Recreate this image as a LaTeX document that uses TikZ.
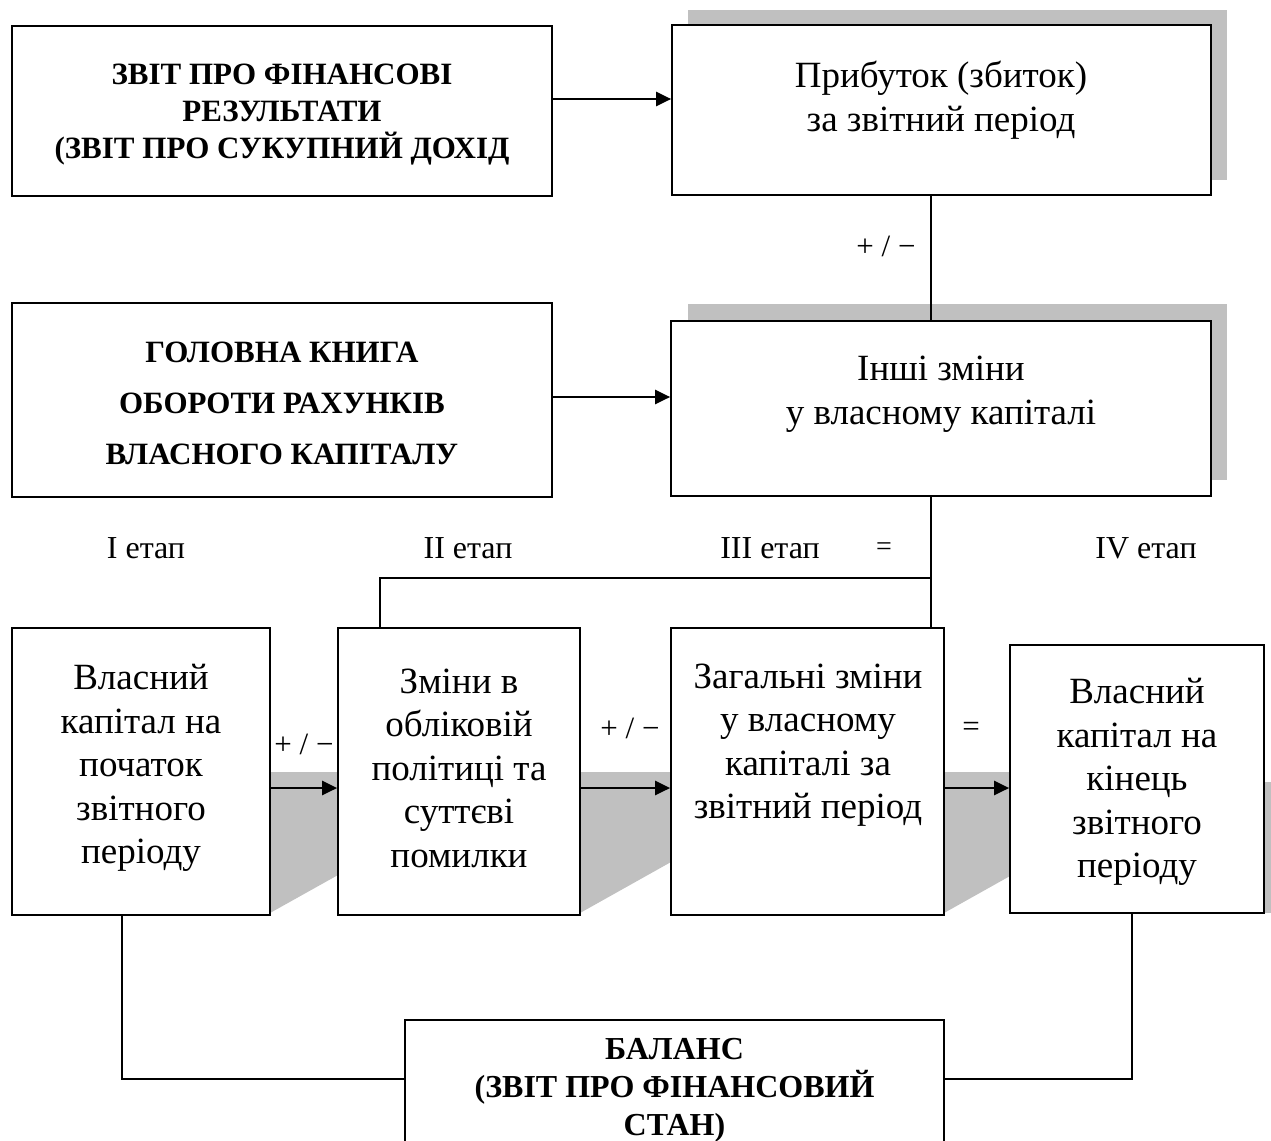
\documentclass[tikz,border=0pt]{standalone}
\usepackage{fontspec}
\setmainfont{Liberation Serif}
\usetikzlibrary{arrows.meta}
\definecolor{shade}{RGB}{192,192,192}
\tikzset{
  box/.style={draw, line width=1.7pt, fill=white, inner sep=0pt},
  txt/.style={align=center, inner sep=0pt, font=\fontsize{37}{43.5}\selectfont},
  btxt/.style={align=center, inner sep=0pt, font=\bfseries\fontsize{31}{37}\selectfont},
  lbl/.style={inner sep=0pt, font=\fontsize{32}{34}\selectfont},
  sgn/.style={inner sep=0pt, font=\fontsize{31}{34}\selectfont},
  conn/.style={line width=1.7pt},
  arr/.style={line width=2.4pt, -{Triangle[length=15pt,width=14pt]}},
  shadowfill/.style={fill=shade, draw=none},
}
\begin{document}
\begin{tikzpicture}[x=1pt,y=-1pt]
\clip (0,0) rectangle (1271,1140);
\fill[white] (0,0) rectangle (1271,1140);

% shadows
\fill[shadowfill] (688,10) rectangle (1227,180);
\fill[shadowfill] (688,304) rectangle (1227,480);
\fill[shadowfill] (270,772) -- (338,772) -- (338,875) -- (270,913) -- cycle;
\fill[shadowfill] (580,772) -- (671,772) -- (671,862) -- (580,913) -- cycle;
\fill[shadowfill] (944,772) -- (1010,772) -- (1010,876) -- (944,913) -- cycle;
\fill[shadowfill] (1264,782) rectangle (1271,913);

% boxes
\node[box, minimum width=540pt, minimum height=170pt] (A) at (282,111) {};
\node[box, minimum width=539pt, minimum height=170pt] (B) at (941.5,110) {};
\node[box, minimum width=540pt, minimum height=175pt] (C) at (941,408.5) {};
\node[box, minimum width=540pt, minimum height=194pt] (D) at (282,400) {};
\node[box, minimum width=258pt, minimum height=287pt] (E) at (141,771.5) {};
\node[box, minimum width=242pt, minimum height=287pt] (F) at (459,771.5) {};
\node[box, minimum width=273pt, minimum height=287pt] (G) at (807.5,771.5) {};
\node[box, minimum width=254pt, minimum height=268pt] (H) at (1137,779) {};
\node[box, minimum width=539pt, minimum height=160pt] (I) at (674.5,1100) {};

% helper coordinates
\coordinate (vx) at (931,0);
\coordinate (fx) at (380,0);
\coordinate (br) at (931,578);
\coordinate (ex) at (122,0);
\coordinate (hx) at (1132,0);

% connectors
\draw[arr] ([yshift=12pt]A.east) -- ([yshift=12pt]A.east -| B.west);
\draw[arr] ([yshift=3pt]D.east) -- ([yshift=3pt]D.east -| C.west);
\draw[conn] (B.south -| vx) -- (C.north -| vx);
\draw[conn] (C.south -| vx) -- (G.north -| vx);
\draw[conn] (br) -- (br -| fx) -- (F.north -| fx);
\draw[arr] ([yshift=-16.5pt]E.east) -- ([yshift=-16.5pt]E.east -| F.west);
\draw[arr] ([yshift=-16.5pt]F.east) -- ([yshift=-16.5pt]F.east -| G.west);
\draw[arr] ([yshift=-16.5pt]G.east) -- ([yshift=-16.5pt]G.east -| H.west);
\draw[conn] (E.south -| ex) |- ([yshift=21pt]I.west);
\draw[conn] (H.south -| hx) |- ([yshift=21pt]I.east);

% texts
\node[btxt] (tA) at (282,115) {ЗВІТ ПРО ФІНАНСОВІ\\РЕЗУЛЬТАТИ\\(ЗВІТ ПРО СУКУПНИЙ ДОХІД};
\node[txt] (tB) at (941,100) {Прибуток (збиток)\\за звітний період};
\node[txt] (tC) at (941,394) {Інші зміни\\у власному капіталі};
\node[btxt, font=\bfseries\fontsize{31}{51}\selectfont] (tD) at (282,403) {ГОЛОВНА КНИГА\\ОБОРОТИ РАХУНКІВ\\ВЛАСНОГО КАПІТАЛУ};
\node[txt] (tE) at (141,768) {Власний\\капітал на\\початок\\звітного\\періоду};
\node[txt] (tF) at (459,768) {Зміни в\\обліковій\\політиці та\\суттєві\\помилки};
\node[txt] (tG) at (808,745) {Загальні зміни\\у власному\\капіталі за\\звітний період};
\node[txt] (tH) at (1137,782) {Власний\\капітал на\\кінець\\звітного\\періоду};
\node[btxt, font=\bfseries\fontsize{32}{38}\selectfont] (tI) at (674.5,1090) {БАЛАНС\\(ЗВІТ ПРО ФІНАНСОВИЙ\\СТАН)};

% labels
\node[lbl] (l1) at (146,548) {I етап};
\node[lbl] (l2) at (468,548) {II етап};
\node[lbl] (l3) at (770,548) {III етап};
\node[sgn, font=\fontsize{28}{30}\selectfont] (l3e) at (884,549) {=};
\node[lbl] (l4) at (1146,548) {IV етап};
\node[sgn] (s1) at (886,246) {+ / −};
\node[sgn] (s2) at (304,744) {+ / −};
\node[sgn] (s3) at (630,728) {+ / −};
\node[sgn] (s4) at (971,729) {=};
\end{tikzpicture}
\end{document}
